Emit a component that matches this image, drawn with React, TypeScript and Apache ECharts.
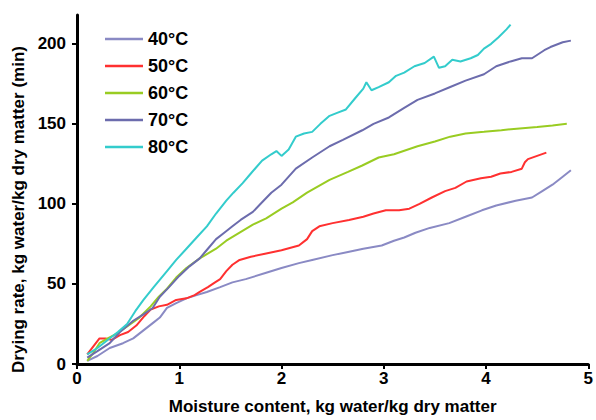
import React, { useEffect, useRef } from "react";
import * as echarts from "echarts";

const seriesNames = ["40°C", "50°C", "60°C", "70°C", "80°C"];
const seriesColors = ["#8a8ac4", "#ff3030", "#99cc22", "#6c6cad", "#33cccc"];

const t40: [number, number][] = [
  [0.1, 2], [0.2, 5], [0.32, 10], [0.45, 13], [0.55, 16], [0.65, 21], [0.75, 26], [0.81, 29],
  [0.88, 35], [0.97, 38], [1.07, 41], [1.17, 43], [1.27, 45], [1.4, 48], [1.52, 51], [1.65, 53],
  [1.85, 57], [2.0, 60], [2.17, 63], [2.3, 65], [2.5, 68], [2.65, 70], [2.8, 72], [2.98, 74],
  [3.1, 77], [3.2, 79], [3.31, 82], [3.45, 85], [3.64, 88], [3.8, 92], [3.96, 96], [4.1, 99],
  [4.29, 102], [4.45, 104], [4.55, 108], [4.65, 112], [4.75, 117], [4.83, 121],
];

const t50: [number, number][] = [
  [0.1, 6], [0.16, 11], [0.22, 16], [0.28, 16], [0.34, 15], [0.42, 18], [0.5, 20], [0.58, 24],
  [0.66, 30], [0.72, 34], [0.8, 36], [0.88, 37], [0.97, 40], [1.07, 41], [1.15, 43], [1.2, 45],
  [1.28, 48], [1.35, 51], [1.4, 53], [1.46, 58], [1.52, 62], [1.59, 65], [1.7, 67], [1.85, 69],
  [2.0, 71], [2.17, 74], [2.25, 78], [2.3, 83], [2.37, 86], [2.5, 88], [2.66, 90], [2.8, 92],
  [2.9, 94], [3.02, 96], [3.15, 96], [3.25, 97], [3.35, 100], [3.47, 104], [3.6, 108], [3.7, 110],
  [3.81, 114], [3.95, 116], [4.05, 117], [4.14, 119], [4.25, 120], [4.35, 122], [4.38, 126],
  [4.41, 128], [4.5, 130], [4.59, 132],
];

const t60: [number, number][] = [
  [0.1, 2], [0.16, 7], [0.22, 13], [0.3, 16], [0.39, 19], [0.5, 24], [0.61, 29], [0.72, 36],
  [0.8, 42], [0.88, 47], [0.97, 54], [1.07, 60], [1.2, 66], [1.36, 72], [1.46, 77], [1.59, 82],
  [1.72, 87], [1.85, 91], [2.0, 97], [2.11, 101], [2.25, 107], [2.47, 115], [2.65, 120],
  [2.79, 124], [2.95, 129], [3.1, 131], [3.33, 136], [3.5, 139], [3.65, 142], [3.8, 144],
  [3.98, 145], [4.15, 146], [4.3, 147], [4.5, 148], [4.65, 149], [4.79, 150],
];

const t70: [number, number][] = [
  [0.1, 4], [0.2, 8], [0.32, 13], [0.42, 20], [0.55, 27], [0.65, 31], [0.74, 35], [0.81, 42],
  [0.9, 48], [1.0, 55], [1.1, 61], [1.2, 66], [1.28, 72], [1.36, 78], [1.44, 82], [1.52, 86],
  [1.6, 90], [1.72, 95], [1.81, 101], [1.9, 107], [2.0, 112], [2.14, 122], [2.3, 129],
  [2.47, 136], [2.6, 140], [2.79, 146], [2.9, 150], [3.05, 154], [3.2, 160], [3.33, 165],
  [3.5, 169], [3.65, 173], [3.8, 177], [3.98, 181], [4.1, 186], [4.24, 189], [4.35, 191],
  [4.45, 191], [4.57, 196], [4.63, 198], [4.75, 201], [4.83, 202],
];

const t80: [number, number][] = [
  [0.1, 6], [0.2, 10], [0.3, 15], [0.4, 20], [0.49, 25], [0.57, 33], [0.65, 40], [0.75, 48],
  [0.88, 58], [0.97, 65], [1.07, 72], [1.17, 79], [1.27, 86], [1.36, 94], [1.46, 102],
  [1.53, 107], [1.62, 113], [1.7, 119], [1.81, 127], [1.9, 131], [1.95, 133], [2.0, 130],
  [2.07, 134], [2.14, 142], [2.22, 144], [2.3, 145], [2.38, 150], [2.47, 155], [2.55, 157],
  [2.63, 159], [2.72, 166], [2.8, 172], [2.83, 176], [2.88, 171], [2.95, 173], [3.05, 176],
  [3.12, 180], [3.2, 182], [3.3, 186], [3.4, 188], [3.49, 192], [3.54, 185], [3.6, 186],
  [3.67, 190], [3.75, 189], [3.85, 191], [3.92, 193], [3.98, 197], [4.05, 200], [4.12, 204],
  [4.2, 209], [4.24, 212],
];

const allSeries = [t40, t50, t60, t70, t80];
const yTicks = [0, 50, 100, 150, 200];
const xTicks = [0, 1, 2, 3, 4, 5];

const xTitle = "Moisture content, kg water/kg dry matter";
const yTitle = "Drying rate, kg water/kg dry matter (min)";

const FONT = "'Liberation Sans', Arial, sans-serif";

export default function App() {
  const ref = useRef<HTMLDivElement>(null);
  useEffect(() => {
    if (!ref.current) return;
    const chart = echarts.init(ref.current, undefined, { renderer: "svg" });
    chart.setOption({
      animation: false,
      backgroundColor: "#ffffff",
      textStyle: { fontFamily: FONT },
      grid: { left: 77, right: 6, top: 15, bottom: 54 },
      legend: {
        orient: "vertical",
        left: 100,
        top: 25,
        icon: "rect",
        itemWidth: 38,
        itemHeight: 2.5,
        itemGap: 9,
        textStyle: { fontSize: 18, fontWeight: "bold", color: "#000", fontFamily: FONT },
        data: seriesNames,
      },
      xAxis: {
        type: "value",
        min: 0,
        max: 5,
        interval: 1,
        name: xTitle,
        nameLocation: "middle",
        nameGap: 34,
        nameTextStyle: { fontSize: 17, fontWeight: "bold", color: "#000", fontFamily: FONT },
        axisLine: { show: true, lineStyle: { color: "#000", width: 3 } },
        axisTick: { show: true, length: 5, lineStyle: { color: "#000", width: 2 }, customValues: xTicks },
        axisLabel: { fontSize: 17, fontWeight: "bold", color: "#000", margin: 6, customValues: xTicks },
        splitLine: { show: false },
      },
      yAxis: {
        type: "value",
        min: 0,
        max: 218,
        name: yTitle,
        nameLocation: "middle",
        nameGap: 47,
        nameTextStyle: {
          fontSize: 17,
          fontWeight: "bold",
          color: "#000",
          fontFamily: FONT,
          padding: [0, 40, 0, 0],
        },
        axisLine: { show: true, lineStyle: { color: "#000", width: 3 } },
        axisTick: { show: true, length: 5, lineStyle: { color: "#000", width: 2 }, customValues: yTicks },
        axisLabel: { fontSize: 17, fontWeight: "bold", color: "#000", margin: 11, customValues: yTicks },
        splitLine: { show: false },
      },
      series: allSeries.map((d, i) => ({
        name: seriesNames[i],
        type: "line",
        data: d,
        symbol: "none",
        showSymbol: false,
        lineStyle: { color: seriesColors[i], width: 2 },
        itemStyle: { color: seriesColors[i] },
      })),
    });
    return () => chart.dispose();
  }, []);
  return (
    <div
      ref={ref}
      style={{ position: "fixed", left: 0, top: 0, width: 596, height: 420, background: "#fff" }}
    />
  );
}
